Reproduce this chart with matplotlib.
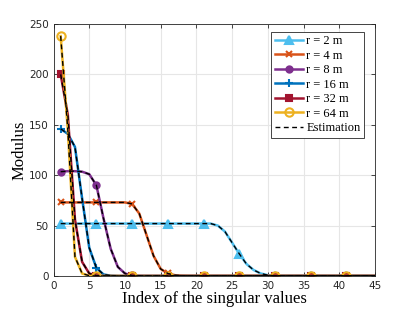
import matplotlib
matplotlib.use("Agg")
import matplotlib.pyplot as plt
import numpy as np

idx = list(range(1, 46))

r2 = [52, 52, 52, 52, 52, 52, 52, 52, 52, 52, 52, 52, 52, 52, 52, 52, 52, 52, 52, 52,
      52, 52, 50, 44, 33, 22, 12, 6, 2.5, 0.8, 0.2, 0, 0, 0, 0, 0, 0, 0, 0, 0,
      0, 0, 0, 0, 0]
r4 = [73, 73, 73, 73, 73, 73, 73, 73, 73, 73, 71.5, 62, 41, 20, 7, 2.5, 0.8, 0.2, 0, 0,
      0, 0, 0, 0, 0, 0, 0, 0, 0, 0, 0, 0, 0, 0, 0, 0, 0, 0, 0, 0,
      0, 0, 0, 0, 0]
r8 = [103.5, 104, 104, 103.5, 101, 90, 57, 27, 9, 2.5, 0.5, 0.1, 0, 0, 0, 0, 0, 0, 0, 0,
      0, 0, 0, 0, 0, 0, 0, 0, 0, 0, 0, 0, 0, 0, 0, 0, 0, 0, 0, 0,
      0, 0, 0, 0, 0]
r16 = [146, 141, 128, 77, 28, 8, 1.5, 0.3, 0, 0, 0, 0, 0, 0, 0, 0, 0, 0, 0, 0,
       0, 0, 0, 0, 0, 0, 0, 0, 0, 0, 0, 0, 0, 0, 0, 0, 0, 0, 0, 0,
       0, 0, 0, 0, 0]
r32 = [200, 160, 56, 14, 2.5, 0.4, 0, 0, 0, 0, 0, 0, 0, 0, 0, 0, 0, 0, 0, 0,
       0, 0, 0, 0, 0, 0, 0, 0, 0, 0, 0, 0, 0, 0, 0, 0, 0, 0, 0, 0,
       0, 0, 0, 0, 0]
r64 = [238, 145, 19, 2.5, 0.3, 0, 0, 0, 0, 0, 0, 0, 0, 0, 0, 0, 0, 0, 0, 0,
       0, 0, 0, 0, 0, 0, 0, 0, 0, 0, 0, 0, 0, 0, 0, 0, 0, 0, 0, 0,
       0, 0, 0, 0, 0]

labels = ["r = 2 m", "r = 4 m", "r = 8 m", "r = 16 m", "r = 32 m", "r = 64 m"]
series = [r2, r4, r8, r16, r32, r64]
colors = ["#4DBEEE", "#D95319", "#7E2F8E", "#0072BD", "#A2142F", "#EDB120"]
markers = ["^", "x", "o", "+", "s", "o"]
msizes = [6, 4, 4.5, 6, 5, 6]
mfc = ["#4DBEEE", "#D95319", "#7E2F8E", "#0072BD", "#A2142F", "none"]

fig = plt.figure(figsize=(4.15, 3.12), dpi=100)
ax = fig.add_axes([0.129, 0.1154, 0.7746, 0.8076])

handles = []
for s, lab, c, m, ms, fc in zip(series, labels, colors, markers, msizes, mfc):
    h, = ax.plot(idx, s, color=c, lw=1.8, marker=m, markersize=ms,
                 markevery=5, markerfacecolor=fc, markeredgecolor=c,
                 markeredgewidth=1.5, label=lab)
    handles.append(h)
for s in series:
    he, = ax.plot(idx, s, color="black", lw=1.0, ls=(0, (3.5, 2.5)))
handles.append(he)

ax.set_xlim(0, 45)
ax.set_ylim(0, 250)
ax.set_xticks(range(0, 46, 5))
ax.set_yticks(range(0, 251, 50))
ax.grid(True, color="#e6e6e6", lw=0.8)
ax.set_axisbelow(True)
ax.tick_params(direction="in", top=True, right=True, labelsize=7.5,
               colors="#262626", length=3, width=0.6)
for sp in ax.spines.values():
    sp.set_color("#262626")
    sp.set_linewidth(0.6)

ax.set_xlabel("Index of the singular values", family="Liberation Serif",
              fontsize=12, labelpad=0)
ax.set_ylabel("Modulus", family="Liberation Serif", fontsize=12, labelpad=1)

leg = ax.legend(handles, labels + ["Estimation"], loc="upper right",
                bbox_to_anchor=(0.975, 0.98),
                prop={"family": "Liberation Serif", "size": 9},
                fancybox=False, framealpha=1, edgecolor="#262626",
                handlelength=2.2, handletextpad=0.3, borderpad=0.3,
                labelspacing=0.2, borderaxespad=0.2)
leg.get_frame().set_linewidth(0.6)

fig.savefig("out.png", dpi=100)
